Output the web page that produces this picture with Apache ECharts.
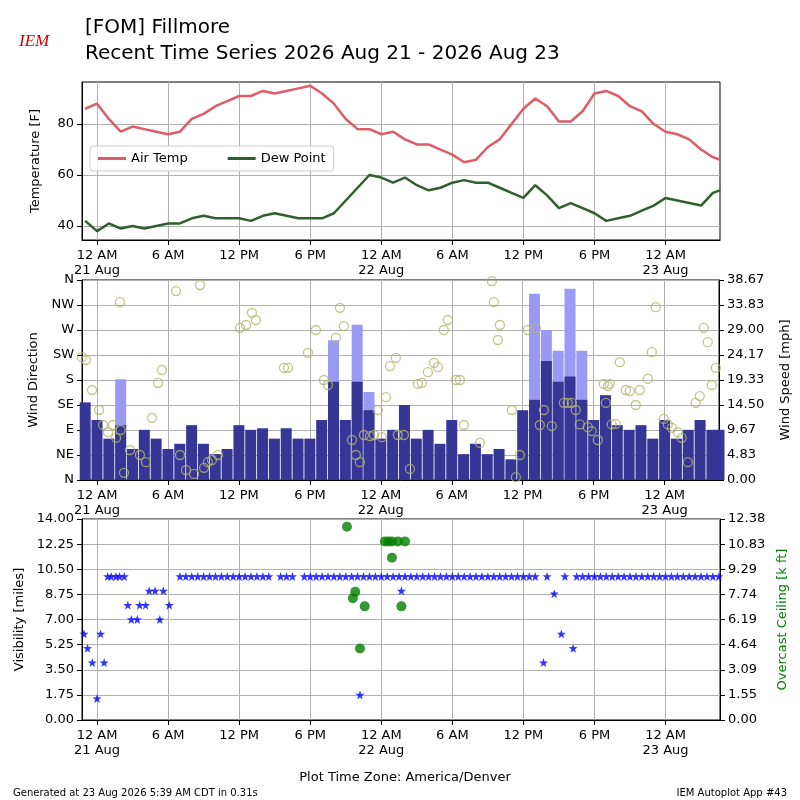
<!DOCTYPE html>
<html>
<head>
<meta charset="UTF-8">
<script src="https://cdn.jsdelivr.net/npm/echarts@6.0.0/dist/echarts.min.js"></script>
<style>
  body { margin: 0; background: #fff; }
  #chart { width: 800px; height: 800px; }
</style>
</head>
<body>
<div id="chart"></div>
<script>
// hours since 2026-08-21 00:00 America/Denver
const hours = [-1,0,1,2,3,4,5,6,7,8,9,10,11,12,13,14,15,16,17,18,19,20,21,22,23,24,25,26,27,28,29,30,31,32,33,34,35,36,37,38,39,40,41,42,43,44,45,46,47,48,49,50,51,52,52.6];
const airTemp = [86,88,82,77,79,78,77,76,77,82,84,87,89,91,91,93,92,93,94,95,92,88,82,78,78,76,77,74,72,72,70,68,65,66,71,74,80,86,90,87,81,81,85,92,93,91,87,85,80,77,76,74,70,67,66];
const dewPoint = [42,38,41,39,40,39,40,41,41,43,44,43,43,43,42,44,45,44,43,43,43,45,50,55,60,59,57,59,56,54,55,57,58,57,57,55,53,51,56,52,47,49,47,45,42,43,44,46,48,51,50,49,48,53,54];
const windSpeed = [15,11.6,8,10.6,6,9.7,8,6,7,10.6,7,5,6,10.6,9.7,10,8,10,8,8,11.6,19,11.6,19,13.5,8,9.7,14.5,8,9.7,7,11.6,5,7,5,6,4,13.5,15.5,23,19,20,15.5,11.6,16.4,10.6,9.7,10.6,8,11.6,8,9.7,11.6,9.7,9.7];
const windGust = [null,null,null,19.5,null,null,null,null,null,null,null,null,null,null,null,null,null,null,null,null,null,27,null,30,17,null,null,null,null,null,null,null,null,null,null,null,null,null,36,29,25,37,25,null,null,null,null,null,null,null,null,null,null,null,null];
const windDir = [[-1.27,221],[-0.93,216],[-0.42,162],[1.94,320],[0.17,126],[0.51,99],[0.93,86],[1.35,99],[1.61,76],[2.0,90],[2.28,13],[2.79,54],[3.63,45],[4.14,32],[4.65,112],[5.16,175],[5.49,198],[6.68,340],[7.02,45],[7.52,18],[8.2,11],[8.71,351],[9.05,22],[9.38,32],[9.72,36],[10.23,45],[12.09,274],[12.6,279],[13.1,301],[13.44,288],[15.81,202],[16.15,202],[17.84,229],[18.51,270],[19.19,180],[19.53,171],[20.2,256],[20.54,310],[20.88,277],[21.56,72],[21.89,45],[22.23,32],[22.57,81],[23.08,79],[23.42,81],[23.75,126],[24.09,77],[24.43,149],[24.77,205],[25.27,220],[25.44,81],[25.95,81],[26.46,20],[27.13,173],[27.47,175],[27.98,194],[28.49,211],[28.83,203],[29.33,270],[29.67,288],[30.35,180],[30.69,180],[31.02,99],[32.38,67],[33.39,358],[33.56,320],[33.9,252],[34.07,279],[35.08,126],[35.42,5],[35.76,45],[36.43,270],[37.11,274],[37.45,99],[37.79,126],[38.46,97],[39.48,139],[39.81,139],[40.15,139],[40.49,126],[40.83,100],[41.5,95],[41.84,88],[42.35,72],[42.86,173],[43.03,139],[43.2,169],[43.36,173],[43.53,100],[43.87,101],[44.21,212],[44.72,162],[45.06,160],[45.56,135],[45.9,162],[46.58,182],[46.92,230],[47.25,311],[47.93,110],[48.27,100],[48.61,94],[49.11,86],[49.45,76],[49.96,32],[50.63,139],[50.97,151],[51.31,274],[51.65,248],[51.99,171],[52.33,202]];
const visLow = [[-1.1,6],[-0.8,5],[-0.4,4],[0,1.5],[0.3,6],[0.6,4],[2.6,8],[2.9,7],[3.4,7],[3.6,8],[4.1,8],[4.4,9],[4.9,9],[5.3,7],[5.6,9],[6.1,8],[22.2,1.75],[25.7,9],[37.7,4],[38.6,8.8],[39.2,6],[40.2,5]];
const visTenHours = [-1.3,0.9,1.2,1.6,1.9,2.3,7,7.5,8,8.5,9,9.5,10,10.5,11,11.5,12,12.5,13,13.5,14,14.5,15.5,16,16.5,17.5,18,18.5,19,19.5,20,20.5,21,21.5,22,22.5,23,23.5,24,24.5,25,25.5,26,26.5,27,27.5,28,28.5,29,29.5,30,30.5,31,31.5,32,32.5,33,33.5,34,34.5,35,35.5,36,36.5,37,38,39.5,40.5,41,41.5,42,42.5,43,43.5,44,44.5,45,45.5,46,46.5,47,47.5,48,48.5,49,49.5,50,50.5,51,51.5,52,52.5];
const ceiling = [[21.1,11.9],[21.6,7.5],[21.8,7.9],[22.2,4.4],[22.6,7.0],[24.3,11.0],[24.6,11.0],[24.9,11.0],[24.9,10.0],[25.4,11.0],[25.7,7.0],[26.0,11.0]];
const timeTicks = [0,6,12,18,24,30,36,42,48];
const dayNames = ['21 Aug','22 Aug','23 Aug'];
const dirLabels = ['N','NE','E','SE','S','SW','W','NW','N'];
const speedLabels = ['0.00','4.83','9.67','14.50','19.33','24.17','29.00','33.83','38.67'];
const ceilingLabels = ['0.00','1.55','3.09','4.64','6.19','7.74','9.29','10.83','12.38'];

const chart = echarts.init(document.getElementById('chart'));
const font = 'DejaVu Sans';
const gridLine = { show: true, lineStyle: { color: '#b0b0b0', width: 1 } };

function timeLabel(h) {
  const hr = ((h % 24) + 24) % 24;
  const txt = hr === 0 ? '12 AM' : hr === 12 ? '12 PM' : (hr > 12 ? (hr - 12) + ' PM' : hr + ' AM');
  return hr === 0 ? txt + '\n' + dayNames[h / 24] : txt;
}
function xAx(i) {
  return {
    type: 'value', gridIndex: i, min: -1.27, max: 52.6,
    axisLine: { onZero: false, lineStyle: { color: '#000' } },
    axisTick: { customValues: timeTicks, lineStyle: { color: '#000' } },
    axisLabel: { customValues: timeTicks, formatter: timeLabel, color: '#000', fontFamily: font, fontSize: 13, lineHeight: 15 },
    splitLine: gridLine
  };
}
const yBase = {
  axisLine: { show: true, onZero: false, lineStyle: { color: '#000' } },
  axisTick: { show: true, lineStyle: { color: '#000' } },
  nameLocation: 'middle',
  nameTextStyle: { fontFamily: font, fontSize: 13, color: '#000' }
};
const lbl = { color: '#000', fontFamily: font, fontSize: 13 };

chart.setOption({
  animation: false,
  textStyle: { fontFamily: font },
  title: [
    { text: '[FOM] Fillmore\nRecent Time Series 2026 Aug 21 - 2026 Aug 23', left: 80, top: 10,
      textStyle: { fontFamily: font, fontSize: 20, fontWeight: 'normal', lineHeight: 26, color: '#000' } },
    { text: 'IEM', left: 14, top: 28, textStyle: { fontFamily: 'Liberation Serif', fontStyle: 'italic', fontSize: 17, color: '#c00', fontWeight: 'normal' } },
    { text: 'Generated at 23 Aug 2026 5:39 AM CDT in 0.31s', left: 8, top: 783,
      textStyle: { fontFamily: font, fontSize: 10, fontWeight: 'normal', color: '#000' } },
    { text: 'IEM Autoplot App #43', right: 8, top: 783,
      textStyle: { fontFamily: font, fontSize: 10, fontWeight: 'normal', color: '#000' } },
    { text: 'Plot Time Zone: America/Denver', left: 400, textAlign: 'center', top: 766,
      textStyle: { fontFamily: font, fontSize: 13, fontWeight: 'normal', color: '#000' } }
  ],
  legend: {
    data: [{ name: 'Air Temp', icon: 'rect' }, { name: 'Dew Point', icon: 'rect' }],
    left: 90, top: 146, itemWidth: 28, itemHeight: 3, itemGap: 40,
    borderColor: '#ccc', borderWidth: 1, borderRadius: 3, padding: [6, 8],
    backgroundColor: 'rgba(255,255,255,0.8)',
    textStyle: { fontFamily: font, fontSize: 13, color: '#000' }
  },
  grid: [
    { left: 82, right: 80, top: 82, height: 158, show: true, borderColor: '#000' },
    { left: 82, right: 80, top: 280, height: 200, show: true, borderColor: '#000' },
    { left: 82, right: 80, top: 519, height: 201, show: true, borderColor: '#000' }
  ],
  xAxis: [xAx(0), xAx(1), xAx(2)],
  yAxis: [
    Object.assign({}, yBase, { type: 'value', gridIndex: 0, min: 34.5, max: 96.5, name: 'Temperature [F]', nameGap: 40,
      axisTick: { show: true, customValues: [40, 60, 80], lineStyle: { color: '#000' } },
      axisLabel: Object.assign({ customValues: [40, 60, 80] }, lbl),
      splitLine: gridLine }),
    Object.assign({}, yBase, { type: 'value', gridIndex: 1, min: 0, max: 360, interval: 45, name: 'Wind Direction', nameGap: 40,
      axisLabel: Object.assign({ formatter: v => dirLabels[Math.round(v / 45)] }, lbl),
      splitLine: gridLine }),
    Object.assign({}, yBase, { type: 'value', gridIndex: 1, position: 'right', min: 0, max: 38.67, interval: 38.67 / 8, name: 'Wind Speed [mph]', nameGap: 60,
      axisLabel: Object.assign({ formatter: v => speedLabels[Math.round(v / (38.67 / 8))] }, lbl),
      splitLine: { show: false } }),
    Object.assign({}, yBase, { type: 'value', gridIndex: 2, min: 0, max: 14, interval: 1.75, name: 'Visibility [miles]', nameGap: 48,
      axisLabel: Object.assign({ formatter: v => v.toFixed(2) }, lbl),
      splitLine: gridLine }),
    Object.assign({}, yBase, { type: 'value', gridIndex: 2, position: 'right', min: 0, max: 12.38, interval: 12.38 / 8, name: 'Overcast Ceiling [k ft]', nameGap: 48,
      nameTextStyle: { fontFamily: font, fontSize: 13, color: '#008000' },
      axisLabel: Object.assign({ formatter: v => ceilingLabels[Math.round(v / (12.38 / 8))] }, lbl),
      splitLine: { show: false } })
  ],
  series: [
    { name: 'Air Temp', type: 'line', xAxisIndex: 0, yAxisIndex: 0, showSymbol: false,
      data: hours.map((h, i) => [h, airTemp[i]]), lineStyle: { color: '#dd5c66', width: 2.5 }, itemStyle: { color: '#dd5c66' } },
    { name: 'Dew Point', type: 'line', xAxisIndex: 0, yAxisIndex: 0, showSymbol: false,
      data: hours.map((h, i) => [h, dewPoint[i]]), lineStyle: { color: '#2f5f2f', width: 2.5 }, itemStyle: { color: '#2f5f2f' } },
    { name: 'Gust', type: 'bar', xAxisIndex: 1, yAxisIndex: 2, barWidth: 11, barGap: '-100%',
      data: hours.map((h, i) => [h, windGust[i]]), itemStyle: { color: '#9a9af5' } },
    { name: 'Speed', type: 'bar', xAxisIndex: 1, yAxisIndex: 2, barWidth: 11, barGap: '-100%',
      data: hours.map((h, i) => [h, windSpeed[i]]), itemStyle: { color: '#363696' } },
    { name: 'Direction', type: 'scatter', xAxisIndex: 1, yAxisIndex: 1, symbolSize: 9, data: windDir,
      itemStyle: { color: 'rgba(0,0,0,0)', borderColor: '#b4b46c', borderWidth: 1.3 } },
    { name: 'Visibility', type: 'scatter', xAxisIndex: 2, yAxisIndex: 3, symbol: 'path://M0,-10 L2.35,-3.24 L9.51,-3.09 L3.8,1.24 L5.88,8.09 L0,4 L-5.88,8.09 L-3.8,1.24 L-9.51,-3.09 L-2.35,-3.24Z',
      symbolSize: 9, data: visTenHours.map(h => [h, 10]).concat(visLow), itemStyle: { color: '#0000ff' } },
    { name: 'Ceiling', type: 'scatter', xAxisIndex: 2, yAxisIndex: 4, symbolSize: 10, data: ceiling,
      itemStyle: { color: '#008000' } }
  ]
});
</script>
</body>
</html>
